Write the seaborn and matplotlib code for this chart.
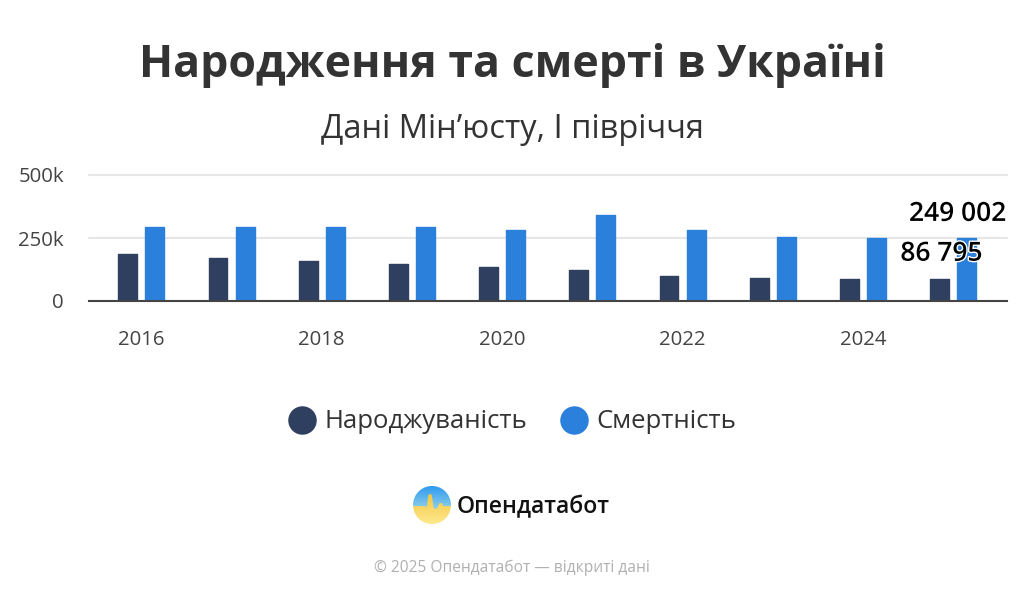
import numpy as np
import pandas as pd
import seaborn as sns
import matplotlib
matplotlib.use('Agg')
import matplotlib.pyplot as plt
from matplotlib.lines import Line2D
from matplotlib.patches import Circle, Polygon
from matplotlib.colors import LinearSegmentedColormap
import matplotlib.patheffects as pe

years = ['2016', '2017', '2018', '2019', '2020', '2021', '2022', '2023', '2024', '2025']
births = [186000, 172000, 160000, 147000, 133000, 125000, 98000, 91000, 87600, 86795]
deaths = [295000, 295000, 295000, 295000, 280000, 340000, 281000, 255000, 250000, 249002]
series_names = ['Народжуваність', 'Смертність']
colors = ['#2f3f60', '#2b80dc']

W, H = 1024, 597

sns.set_theme(style='white')
plt.rcParams['font.family'] = ['Open Sans', 'DejaVu Sans']

df = pd.DataFrame({'year': years, series_names[0]: births, series_names[1]: deaths})
df_melt = df.melt(id_vars='year', var_name='metric', value_name='value')

fig = plt.figure(figsize=(W / 100, H / 100), dpi=100)
ax = fig.add_axes([89 / W, 1 - 301 / H, 918 / W, 126 / H])

sns.barplot(data=df_melt, x='year', y='value', hue='metric', hue_order=series_names,
            palette=colors, width=0.6, gap=0.3, saturation=1, legend=False, ax=ax)

# rounded corners
for bar in ax.patches:
    bar.set_edgecolor(bar.get_facecolor())
    bar.set_linewidth(1.0)
    bar.set_joinstyle('round')

ax.set_xlim(-0.58, 9.597)
ax.set_ylim(0, 500000)
ax.set_xlabel('')
ax.set_ylabel('')
ax.set_yticks([0, 250000, 500000], ['0', '250k', '500k'])
ax.set_xticks(range(0, 10, 2), years[::2])
ax.tick_params(axis='y', length=0, pad=18, labelsize=14.7, labelcolor='#444444')
ax.tick_params(axis='x', length=0, pad=21, labelsize=14.7, labelcolor='#444444')
ax.grid(axis='y', color='#e6e6e6', lw=1.5, zorder=0, clip_on=False)
ax.set_axisbelow(True)
for name in ['top', 'left', 'right']:
    ax.spines[name].set_visible(False)
ax.spines['bottom'].set_color('#444444')
ax.spines['bottom'].set_linewidth(1.5)

# labels of the last year
outline = [pe.withStroke(linewidth=2, foreground='white')]
ax.text(8.87, 136000, '86 795', ha='center', va='bottom',
        fontsize=19, fontweight='semibold', color='black', path_effects=outline, clip_on=False)
ax.text(9.05, 294000, '249 002', ha='center', va='bottom',
        fontsize=19, fontweight='semibold', color='black', path_effects=outline, clip_on=False)

fig.text(512 / W, 1 - 66 / H, 'Народження та смерті в Україні', ha='center', va='center',
         fontsize=32.1, fontweight='bold', color='#333333')
fig.text(512 / W, 1 - 130 / H, 'Дані Мін’юсту, І півріччя', ha='center', va='center',
         fontsize=23.5, color='#333333')

handles = [Line2D([], [], ls='', marker='o', ms=19.5, color=c) for c in colors]
fig.legend(handles, series_names, loc='center', bbox_to_anchor=(506.5 / W, 1 - 422 / H),
           ncol=2, frameon=False, fontsize=18.5, labelcolor='#333333',
           handletextpad=-0.14, columnspacing=0.83)

# logo
sky = LinearSegmentedColormap.from_list('sky', ['#2f9af0', '#8fd0e8'])
land = LinearSegmentedColormap.from_list('land', ['#f5c63c', '#fde88e'])
logo = fig.add_axes([413 / W, 1 - 524 / H, 38 / W, 38 / H])
logo.axis('off')
grad = np.linspace(0, 1, 64).reshape(-1, 1)
logo.imshow(grad, cmap=sky, extent=(0, 1, 0.4, 1), origin='upper', aspect='auto')
bottom = logo.imshow(grad, cmap=land, extent=(0, 1, 0, 0.82), origin='upper', aspect='auto')
bottom.set_clip_path(Polygon([(0, 0.47), (0.3, 0.47), (0.36, 0.44), (0.41, 0.78), (0.49, 0.78), (0.54, 0.44),
                              (0.59, 0.38), (0.65, 0.44), (0.7, 0.55), (0.76, 0.55), (0.8, 0.47), (1, 0.47),
                              (1, 0), (0, 0)], closed=True, transform=logo.transData))
logo.set_xlim(0, 1)
logo.set_ylim(0, 1)
# white mask outside the circle
theta = np.linspace(0, 2 * np.pi, 90)
rim = np.c_[0.5 + 0.5 * np.cos(theta), 0.5 + 0.5 * np.sin(theta)]
corners = [(1.1, 0.5), (1.1, -0.1), (-0.1, -0.1), (-0.1, 1.1), (1.1, 1.1), (1.1, 0.5)]
logo.add_patch(Polygon(np.vstack([rim, corners]), closed=True, fc='white', ec='none',
                       transform=logo.transData))

fig.text(457 / W, 1 - 507 / H, 'Опендатабот', ha='left', va='center',
         fontsize=16.6, fontweight='semibold', color='#111111')
fig.text(512 / W, 1 - 568 / H, '© 2025 Опендатабот — відкриті дані', ha='center', va='center',
         fontsize=11.2, color='#b0b0b0')

fig.savefig('out.png', dpi=100)
plt.close()
